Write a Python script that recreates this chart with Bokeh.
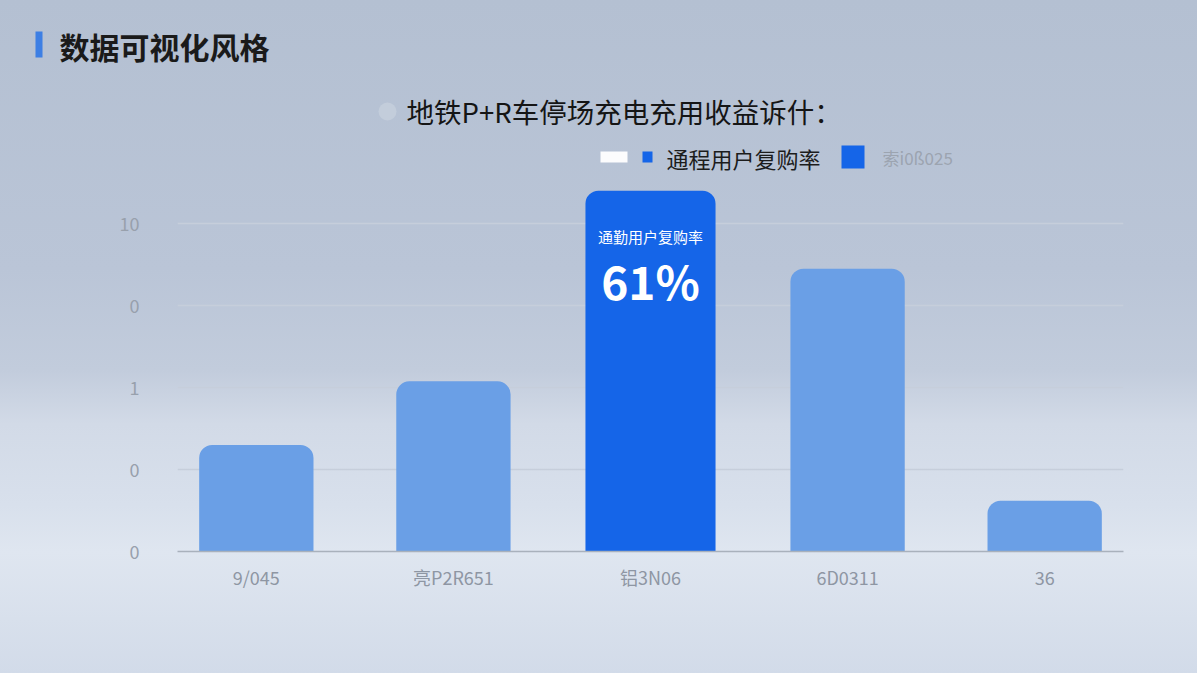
from bokeh.plotting import figure
from bokeh.models import ColumnDataSource, FactorRange, Range1d, Label, BoxAnnotation, FixedTicker
from bokeh.core.properties import value
from bokeh.embed import file_html
from bokeh.resources import INLINE

# ---------------- data ----------------
categories = ["9/045", "亮P2R651", "铝3N06", "6D0311", "36"]
values = [26.0, 41.5, 88.0, 69.0, 12.4]
highlight_index = 2
y_ticks = [0, 20, 40, 60, 80]
y_tick_labels = ["0", "0", "1", "0", "10"]
highlight_label = "通勤用户复购率"
highlight_value_text = "61%"
page_title = "数据可视化风格"
chart_title = "地铁P+R车停场充电充用收益诉什："
legend_labels = ["通程用户复购率", "索i0ß025"]

# ---------------- style ----------------
W, H = 1197, 673
HEAD_H = 180
FRAME_L, FRAME_R, FRAME_B = 177, 1123, 551
FONT = "Noto Sans CJK SC"
BAR = "#6a9fe6"
BAR_HI = "#1565e8"

# ---------------- header (titles + legend) ----------------
head = figure(width=W, height=HEAD_H, x_range=Range1d(0, W), y_range=Range1d(HEAD_H, 0),
              output_backend="svg", toolbar_location=None, min_border=0,
              x_axis_location=None, y_axis_location=None)
head.border_fill_alpha = 0
head.background_fill_alpha = 0
head.outline_line_color = None
head.grid.grid_line_color = None


def box(l, r, t, b, color, alpha=1.0, radius=0):
    return BoxAnnotation(left=l, right=r, top=t, bottom=b,
                         fill_color=color, fill_alpha=alpha, line_color=None, border_radius=radius)


def label(x, y, text, size, color, bold=False):
    return Label(x=x, y=y, text=text, text_font=FONT, text_font_size=size,
                 text_font_style="bold" if bold else "normal", text_color=color,
                 text_baseline="middle", text_align="left")


head.add_layout(box(35, 42, 31, 57, "#3d7fe4"))
head.add_layout(label(59, 45, page_title, "30px", "#1a1a1a", bold=True))

head.add_layout(box(378, 396, 102, 120, "#c3cddb", radius=9))
head.add_layout(label(406, 110, chart_title, "27.5px", "#151515"))

head.add_layout(box(600, 627, 151, 162, "#ffffff", alpha=0.95))
head.add_layout(box(642, 652, 151, 162, BAR_HI))
head.add_layout(label(666, 157, legend_labels[0], "22px", "#1c1c1c"))
head.add_layout(box(841, 864, 145, 168, BAR_HI))
head.add_layout(label(882, 157, legend_labels[1], "17px", "#9ca4b0"))

# ---------------- bar chart ----------------
colors = [BAR_HI if i == highlight_index else BAR for i in range(len(categories))]
widths = [0.66 if i == highlight_index else 0.58 for i in range(len(categories))]
src = ColumnDataSource(dict(cat=categories, val=values, color=colors, w=widths))

p = figure(width=W, height=H - HEAD_H,
           x_range=FactorRange(*categories, range_padding=-0.1, range_padding_units="absolute"),
           y_range=Range1d(0, 90.5),
           output_backend="svg", toolbar_location=None,
           min_border_left=FRAME_L, min_border_right=W - FRAME_R,
           min_border_top=0, min_border_bottom=H - FRAME_B)
p.border_fill_alpha = 0
p.background_fill_alpha = 0
p.outline_line_color = None

p.vbar(x="cat", top="val", width="w", fill_color="color", line_color=None,
       border_radius=(13, 13, 0, 0), source=src)

hx = [categories[highlight_index]]
hy = [values[highlight_index]]
p.text(x=hx, y=hy, text=[highlight_label], y_offset=46, text_align="center", text_baseline="middle",
       text_color="white", text_font=value(FONT), text_font_size="15px")
p.text(x=hx, y=hy, text=[highlight_value_text], y_offset=89, text_align="center", text_baseline="middle",
       text_color="white", text_font=value(FONT), text_font_size="46px", text_font_style="bold")

p.xgrid.grid_line_color = None
p.ygrid.grid_line_color = "#c6cedb"
p.ygrid.grid_line_width = 1.5
p.ygrid.ticker = FixedTicker(ticks=y_ticks)

p.yaxis.ticker = FixedTicker(ticks=y_ticks)
p.yaxis.major_label_overrides = {t: l for t, l in zip(y_ticks, y_tick_labels)}
p.yaxis.axis_line_color = None
p.yaxis.major_tick_line_color = None
p.yaxis.minor_tick_line_color = None
p.yaxis.major_label_standoff = 32
p.yaxis.major_label_text_font = FONT
p.yaxis.major_label_text_font_size = "18px"
p.yaxis.major_label_text_color = "#98a0ac"

p.xaxis.axis_line_color = "#a9b1bc"
p.xaxis.axis_line_width = 1.5
p.xaxis.major_tick_line_color = None
p.xaxis.minor_tick_line_color = None
p.xaxis.major_label_standoff = 6
p.xaxis.major_label_text_font = FONT
p.xaxis.major_label_text_font_size = "18px"
p.xaxis.major_label_text_color = "#8e96a3"

# two independent roots, stacked: header above the chart
html = file_html([head, p], INLINE, title="chart")
css = ("<style>html{height:100%;background:linear-gradient(to bottom,"
       "#b4c0d2 0%,#bac5d7 40%,#c2ccdc 55%,#d2dae7 63%,#d8e0ec 75%,#dfe6f0 82%,#d8e0ec 92%,#d2dbe9 100%);}"
       "body{background:transparent;}</style>")
html = html.replace("</head>", css + "</head>", 1)
open("out.html", "w").write(html)
